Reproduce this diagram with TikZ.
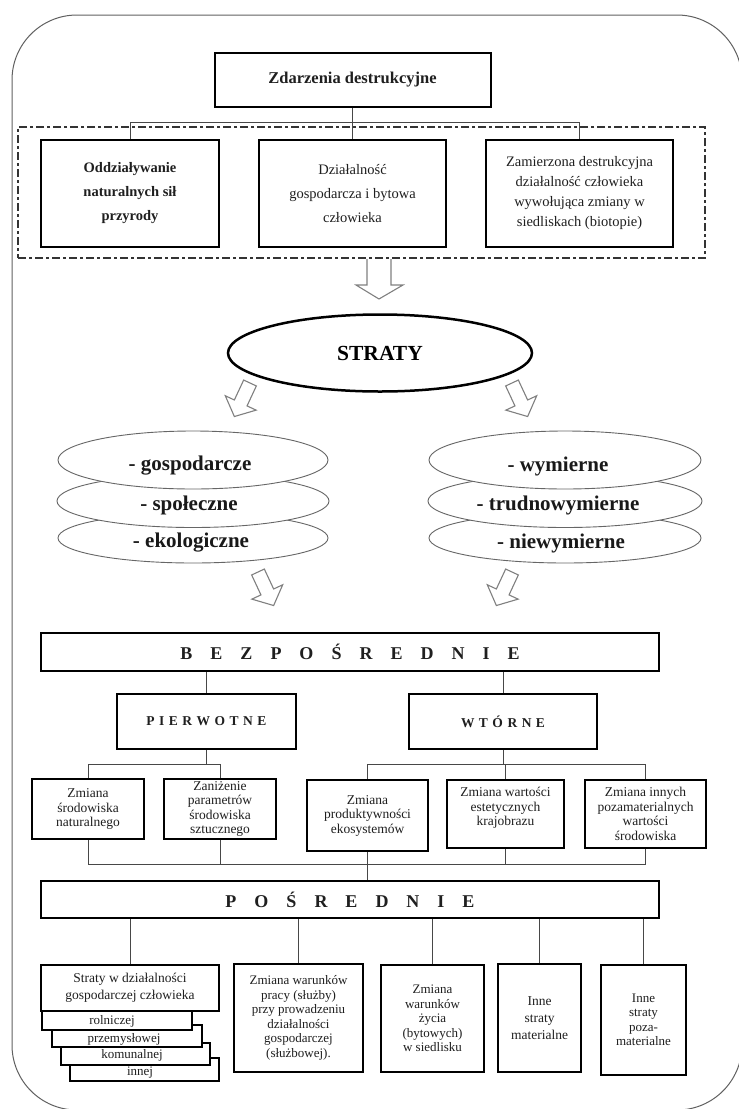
\documentclass[tikz,border=0pt]{standalone}
\usepackage{fontspec}
\setmainfont{Liberation Serif}
\usetikzlibrary{shapes.geometric,calc}
\tikzset{
  frame/.style={draw=black!62, line width=1pt},
  bx/.style={draw=black, line width=2pt, fill=white, align=center, inner sep=1pt, text=black!88},
  sbx/.style={draw=black, line width=1.8pt, fill=white, inner sep=0pt},
  stxt/.style={inner sep=0pt, text=black!88, font=\fontsize{13}{15}\selectfont},
  conn/.style={draw=black!72, line width=0.9pt},
  grp/.style={draw=black!80, line width=1.1pt, dash pattern=on 8pt off 3pt on 3pt off 3pt},
  ell/.style={ellipse, draw=black!60, line width=0.9pt, fill=white, inner sep=0pt},
  bigell/.style={ellipse, draw=black, line width=2.5pt, fill=white, inner sep=0pt},
  hol/.style={draw=black!50, line width=1.1pt, fill=white, line join=miter},
  etxt/.style={inner sep=0pt, text=black!90, font=\fontsize{21}{24}\selectfont\bfseries},
  fZ/.style={font=\fontsize{16.5}{19}\selectfont\bfseries},
  fTa/.style={font=\fontsize{14.5}{24}\selectfont\bfseries},
  fTb/.style={font=\fontsize{14.5}{24}\selectfont},
  fTc/.style={font=\fontsize{14.5}{20}\selectfont},
  fS/.style={font=\fontsize{21.5}{24}\selectfont\bfseries},
  fBig/.style={font=\fontsize{18}{22}\selectfont\bfseries},
  fP/.style={font=\fontsize{13.5}{16}\selectfont\bfseries},
  fM/.style={font=\fontsize{13.5}{14.5}\selectfont},
  fR/.style={font=\fontsize{13}{14.5}\selectfont},
  fRw/.style={font=\fontsize{13.5}{17}\selectfont},
}
\newcommand{\hollowarr}[3]{\draw[hol, shift={(#1,#2)}, rotate=#3] (-7,0) -- (-7,22) -- (-17,22) -- (0,37) -- (17,22) -- (7,22) -- (7,0) -- cycle;}
\begin{document}
\begin{tikzpicture}[x=1pt,y=-1pt]
\path[use as bounding box] (0,0) rectangle (739,1109);
\clip (0,0) rectangle (739,1109);
\fill[white] (0,0) rectangle (739,1109);
% outer frame
\draw[frame, rounded corners=65pt] (12,15) rectangle (742,1110);

% top group
\node[grp, minimum width=687pt, minimum height=131pt] (grp) at (361.5,192.5) {};
\node[bx, fZ, minimum width=276pt, minimum height=54pt] (zd) at (352.5,80) {Zdarzenia destrukcyjne};
\node[bx, fTa, minimum width=178pt, minimum height=107pt] (b1) at (130,193.5) {Oddziaływanie\\naturalnych sił\\przyrody};
\node[bx, fTb, minimum width=187pt, minimum height=107pt] (b2) at (352.5,193.5) {Działalność\\gospodarcza i bytowa\\człowieka};
\node[bx, fTc, minimum width=187pt, minimum height=107pt] (b3) at (579.5,193.5) {Zamierzona destrukcyjna\\działalność człowieka\\wywołująca zmiany w\\siedliskach (biotopie)};
\draw[conn] (zd.south) -- (b2.north);
\draw[conn] (b1.north) -- ++(0,-17) -| (b3.north);

% arrow to STRATY
\draw[hol] (367,259) -- (367,285) -- (356,285) -- (379,299) -- (403,285) -- (391,285) -- (391,259);

\node[bigell, fS, minimum width=304pt, minimum height=77pt] (st) at (380,353) {STRATY};

\hollowarr{250}{383}{-25}
\hollowarr{512}{383}{25}

% left stack
\node[ell, minimum width=270pt, minimum height=50pt] (l3) at (193,538) {};
\node[ell, minimum width=272pt, minimum height=53pt] (l2) at (193,501) {};
\node[ell, minimum width=270pt, minimum height=58pt] (l1) at (193,460) {};
\node[etxt] (l1t) at (190,466) {- gospodarcze};
\node[etxt] (l2t) at (189,505) {- społeczne};
\node[etxt] (l3t) at (191,543) {- ekologiczne};
% right stack
\node[ell, minimum width=272pt, minimum height=50pt] (r3) at (565,538) {};
\node[ell, minimum width=274pt, minimum height=53pt] (r2) at (565,501) {};
\node[ell, minimum width=272pt, minimum height=58pt] (r1) at (565,460) {};
\node[etxt] (r1t) at (558,466) {- wymierne};
\node[etxt] (r2t) at (558,505) {- trudnowymierne};
\node[etxt] (r3t) at (561,543) {- niewymierne};

\hollowarr{258}{572}{25}
\hollowarr{512}{572}{-25}

% BEZPOSREDNIE
\node[bx, fBig, minimum width=618pt, minimum height=38pt] (bez) at (350,652) {\spaceskip=18pt\relax B E Z P O Ś R E D N I E};
\node[bx, fP, minimum width=179pt, minimum height=55pt] (pier) at (206.5,721.5) {\spaceskip=4.5pt\relax P I E R W O T N E};
\node[bx, fP, minimum width=188pt, minimum height=55pt] (wto) at (503,721.5) {\spaceskip=4.5pt\relax W T Ó R N E};
\draw[conn] (bez.south -| pier.north) -- (pier.north);
\draw[conn] (bez.south -| wto.north) -- (wto.north);

\node[bx, fM, minimum width=112pt, minimum height=60pt] (ra) at (88,809) {Zmiana\\środowiska\\naturalnego};
\node[bx, fM, minimum width=112pt, minimum height=60pt] (rb) at (220,809) {Zaniżenie\\parametrów\\środowiska\\sztucznego};
\node[bx, fM, minimum width=121pt, minimum height=71pt] (rc) at (367.5,815.5) {Zmiana\\produktywności\\ekosystemów};
\node[bx, fM, minimum width=117pt, minimum height=68pt] (rd) at (505.5,814) {Zmiana wartości\\estetycznych\\krajobrazu\\\mbox{}};
\node[bx, fM, minimum width=121pt, minimum height=68pt] (re) at (645.5,814) {Zmiana innych\\pozamaterialnych\\wartości\\środowiska};

\coordinate (jp) at (0,764);
\coordinate (jq) at (0,864);
\draw[conn] (pier.south) -- (pier.south |- jp);
\draw[conn] (ra.north) |- (jp -| rb.north) -- (rb.north);
\draw[conn] (wto.south) -- (wto.south |- jp);
\draw[conn] (rc.north) |- (jp -| re.north) -- (re.north);
\draw[conn] (rd.north) -- (rd.north |- jp);

% POSREDNIE
\node[bx, fBig, minimum width=618pt, minimum height=37pt] (pos) at (350,899.5) {\spaceskip=18pt\relax P O Ś R E D N I E};
\draw[conn] (ra.south) |- (jq -| re.south) -- (re.south);
\draw[conn] (rb.south) -- (rb.south |- jq);
\draw[conn] (rd.south) -- (rd.south |- jq);
\draw[conn] (rc.south) -- (rc.south |- pos.north);

% bottom boxes
\node[sbx, minimum width=149pt, minimum height=23pt] (s4) at (144.5,1069.5) {};
\node[sbx, minimum width=149pt, minimum height=22pt] (s3) at (135.5,1054) {};
\node[sbx, minimum width=150pt, minimum height=22pt] (s2) at (127,1036) {};
\node[sbx, minimum width=150pt, minimum height=19pt] (s1) at (117,1020.5) {};
\node[stxt] (s1t) at (112,1021) {rolniczej};
\node[stxt] (s2t) at (124,1039) {przemysłowej};
\node[stxt] (s3t) at (132,1055) {komunalnej};
\node[stxt] (s4t) at (140,1073) {innej};
\node[bx, fRw, minimum width=178pt, minimum height=46pt] (q1) at (130,988) {Straty w działalności\\gospodarczej człowieka};
\node[bx, fR, minimum width=129pt, minimum height=108pt] (q2) at (298.5,1018) {Zmiana warunków\\pracy (służby)\\przy prowadzeniu\\działalności\\gospodarczej\\(służbowej).};
\node[bx, fR, minimum width=103pt, minimum height=107pt] (q3) at (432.5,1018.5) {Zmiana\\warunków\\życia\\(bytowych)\\w siedlisku};
\node[bx, fRw, minimum width=83pt, minimum height=108pt] (q4) at (539.5,1018) {Inne\\straty\\materialne};
\node[bx, fR, minimum width=85pt, minimum height=110pt] (q5) at (643.5,1020) {Inne\\straty\\poza-\\materialne};
\foreach \q in {q1,q2,q3,q4,q5}{
  \draw[conn] (\q.north) -- (\q.north |- pos.south);
}
\end{tikzpicture}
\end{document}
